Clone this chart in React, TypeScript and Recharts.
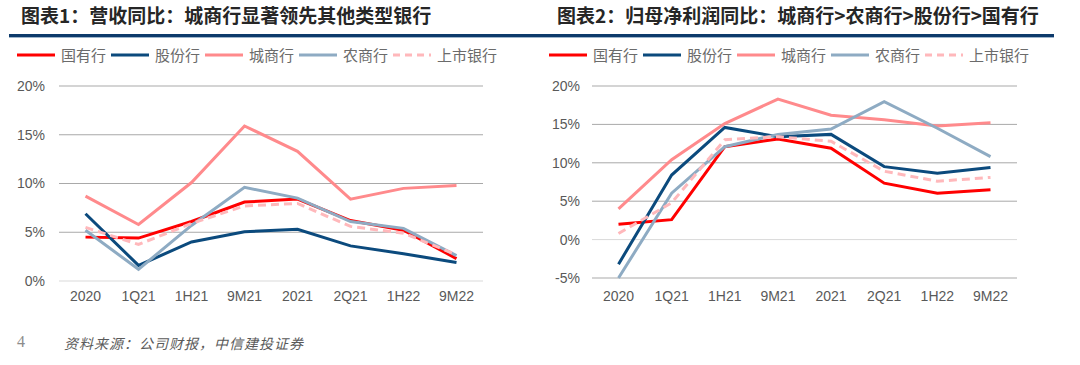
import { CartesianGrid, Line, LineChart, ReferenceLine, XAxis, YAxis } from "recharts";

const categories = ["2020", "1Q21", "1H21", "9M21", "2021", "2Q21", "1H22", "9M22"];

// 图表1 营收同比 (%)
const revGuoyou = [4.5, 4.4, 6.1, 8.1, 8.4, 6.2, 5.2, 2.3];
const revGufen = [6.9, 1.6, 4.0, 5.05, 5.3, 3.6, 2.8, 1.9];
const revChengshang = [8.7, 5.8, 10.1, 15.9, 13.3, 8.4, 9.5, 9.8];
const revNongshang = [5.2, 1.2, 5.7, 9.6, 8.5, 6.1, 5.4, 2.6];
const revShangshi = [5.5, 3.75, 5.9, 7.7, 7.95, 5.6, 4.9, 2.7];

// 图表2 归母净利润同比 (%)
const npGuoyou = [2.0, 2.6, 12.1, 13.1, 11.9, 7.35, 6.05, 6.5];
const npGufen = [-3.2, 8.4, 14.6, 13.4, 13.7, 9.5, 8.65, 9.4];
const npChengshang = [4.0, 10.4, 15.1, 18.3, 16.2, 15.6, 14.8, 15.2];
const npNongshang = [-5.0, 6.05, 12.1, 13.7, 14.4, 17.95, 14.5, 10.8];
const npShangshi = [0.8, 4.8, 13.0, 13.4, 12.8, 8.9, 7.6, 8.1];

const seriesNames = ["国有行", "股份行", "城商行", "农商行", "上市银行"];
const seriesKeys = ["guoyou", "gufen", "chengshang", "nongshang", "shangshi"];
const seriesColors = ["#ff0000", "#0b4a7d", "#ff8a8c", "#8eabc3", "#ffb8bb"];

const revTicks = [0, 5, 10, 15, 20];
const npTicks = [-5, 0, 5, 10, 15, 20];

const revData = categories.map((c, i) => ({
  cat: c,
  guoyou: revGuoyou[i],
  gufen: revGufen[i],
  chengshang: revChengshang[i],
  nongshang: revNongshang[i],
  shangshi: revShangshi[i],
}));

const npData = categories.map((c, i) => ({
  cat: c,
  guoyou: npGuoyou[i],
  gufen: npGufen[i],
  chengshang: npChengshang[i],
  nongshang: npNongshang[i],
  shangshi: npShangshi[i],
}));

const tickStyle = { fill: "#595959", fontSize: 14, fontFamily: "'Liberation Sans', Arial, sans-serif" };
const cjk = "'Noto Sans CJK SC', sans-serif";

function Title({ text, left }: { text: string; left: number }) {
  return (
    <div
      style={{
        position: "absolute",
        left,
        top: 3,
        fontFamily: cjk,
        fontWeight: 700,
        fontSize: 19,
        color: "#262626",
        lineHeight: "24px",
        whiteSpace: "nowrap",
      }}
    >
      {text}
    </div>
  );
}

function LegendRow({ left }: { left: number }) {
  return (
    <div style={{ position: "absolute", left, top: 45, height: 20, display: "flex", alignItems: "center" }}>
      {seriesNames.map((name, i) => (
        <div key={name} style={{ display: "flex", alignItems: "center", marginRight: 5 }}>
          <svg width={38} height={6} style={{ display: "block" }}>
            <line
              x1={0}
              y1={3}
              x2={38}
              y2={3}
              stroke={seriesColors[i]}
              strokeWidth={3}
              strokeDasharray={i === 4 ? "7 5" : undefined}
            />
          </svg>
          <span style={{ marginLeft: 6, fontFamily: cjk, fontSize: 15, color: "#6b6b6b", lineHeight: "20px" }}>
            {name}
          </span>
        </div>
      ))}
    </div>
  );
}

function seriesLines() {
  return seriesKeys.map((k, i) => (
    <Line
      key={k}
      type="linear"
      dataKey={k}
      name={seriesNames[i]}
      stroke={seriesColors[i]}
      strokeWidth={3}
      strokeDasharray={i === 4 ? "8 5" : undefined}
      dot={false}
      activeDot={false}
      isAnimationActive={false}
    />
  ));
}

export default function App() {
  return (
    <div style={{ position: "absolute", left: 0, top: 0, width: 1080, height: 365, background: "#fff", overflow: "hidden" }}>
      <Title text="图表1：营收同比：城商行显著领先其他类型银行" left={21} />
      <Title text="图表2：归母净利润同比：城商行>农商行>股份行>国有行" left={557} />
      <div style={{ position: "absolute", left: 9, top: 34, width: 1045, height: 3, background: "#0d3a6b" }} />
      <div style={{ position: "absolute", left: 9, top: 37, width: 1045, height: 1, background: "#9fb6cc" }} />
      <LegendRow left={17} />
      <LegendRow left={549} />

      <div style={{ position: "absolute", left: 0, top: 70 }}>
        <LineChart width={500} height={240} data={revData} margin={{ top: 16, right: 17, bottom: 0, left: 0 }}>
          <CartesianGrid horizontal vertical={false} stroke="#a9a9a9" horizontalValues={[5, 10, 15, 20]} />
          <XAxis
            dataKey="cat"
            height={29}
            tick={tickStyle}
            tickLine={false}
            axisLine={{ stroke: "#d9d9d9", strokeWidth: 1 }}
            tickMargin={4}
            interval={0}
            padding={{ left: 26.5, right: 26.5 }}
          />
          <YAxis
            width={59}
            domain={[0, 20]}
            ticks={revTicks}
            tick={tickStyle}
            tickFormatter={(v) => `${v}%`}
            axisLine={false}
            tickLine={false}
            tickMargin={8}
          />
          {seriesLines()}
        </LineChart>
      </div>

      <div style={{ position: "absolute", left: 540, top: 70 }}>
        <LineChart width={500} height={240} data={npData} margin={{ top: 16, right: 23, bottom: 0, left: 0 }}>
          <CartesianGrid horizontal vertical={false} stroke="#a9a9a9" horizontalValues={[-5, 5, 10, 15, 20]} />
          <ReferenceLine y={0} stroke="#d9d9d9" strokeWidth={1} />
          <XAxis
            dataKey="cat"
            height={32}
            tick={tickStyle}
            tickLine={false}
            axisLine={false}
            tickMargin={7}
            interval={0}
            padding={{ left: 26.5, right: 26.5 }}
          />
          <YAxis
            width={52}
            domain={[-5, 20]}
            ticks={npTicks}
            tick={tickStyle}
            tickFormatter={(v) => `${v}%`}
            axisLine={false}
            tickLine={false}
            tickMargin={6}
          />
          {seriesLines()}
        </LineChart>
      </div>

      <div style={{ position: "absolute", left: 17, top: 333, fontFamily: "'Liberation Serif', serif", fontSize: 16, color: "#8c8c8c" }}>
        4
      </div>
      <div
        style={{
          position: "absolute",
          left: 64,
          top: 333,
          fontFamily: cjk,
          fontStyle: "italic",
          fontSize: 14,
          color: "#5a5a5a",
          letterSpacing: 1,
        }}
      >
        资料来源：公司财报，中信建投证券
      </div>
    </div>
  );
}
